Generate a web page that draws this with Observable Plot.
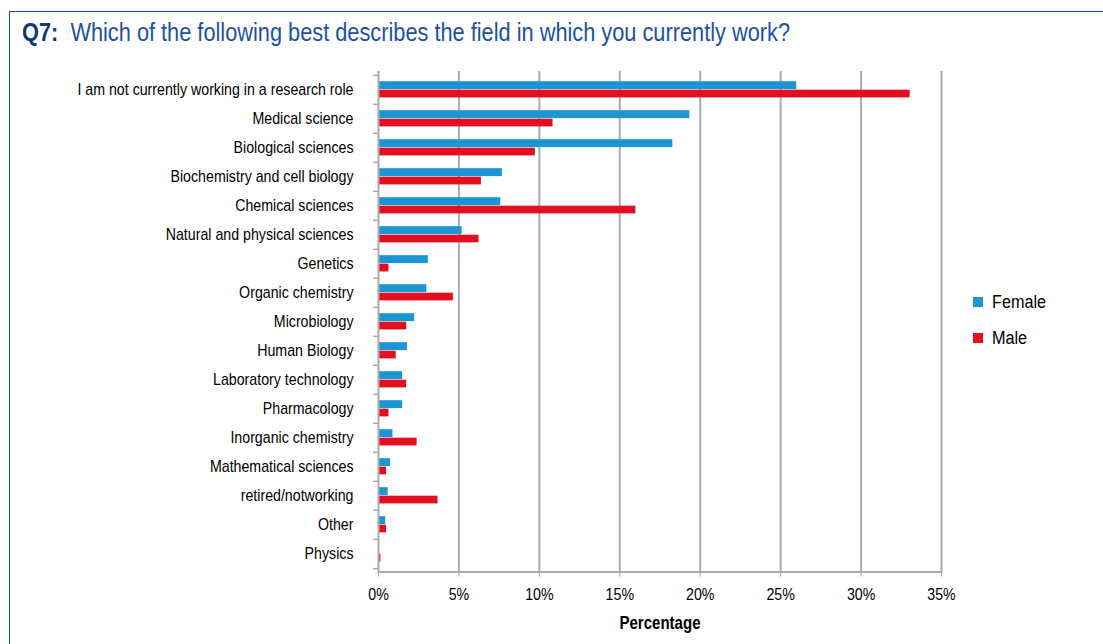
<!DOCTYPE html>
<html><head><meta charset="utf-8">
<script src="https://cdn.jsdelivr.net/npm/d3@7"></script>
<script src="https://cdn.jsdelivr.net/npm/@observablehq/plot@0.6"></script>
<style>
body{margin:0;background:#fff;width:1103px;height:644px;overflow:hidden;position:relative;font-family:"Liberation Sans",Arial,sans-serif;}
#frame{position:absolute;left:9px;top:11px;width:1100px;height:640px;border-top:1.5px solid #1f4e8c;border-left:1.5px solid #1f4e8c;}
#title{position:absolute;left:22px;top:18px;font-size:25px;color:#1d51a0;white-space:nowrap;transform-origin:0 0;}
#title b{color:#0d3b78}
#chart{position:absolute;left:0;top:0}
.leg{position:absolute;font-size:18px;line-height:20px;color:#000;white-space:nowrap;transform-origin:0 0}
.sw{position:absolute;width:10px;height:10px}
</style>
</head><body>
<div id="frame"></div>
<div id="title"><b>Q7:</b>&nbsp; Which of the following best describes the field in which you currently work?</div>
<div id="chart"></div>
<div class="sw" style="left:973px;top:297px;background:#1b95d3"></div>
<div class="leg" style="left:992px;top:292px">Female</div>
<div class="sw" style="left:973px;top:333px;background:#e30e20"></div>
<div class="leg" style="left:992px;top:328px">Male</div>
<script>
const categories = ["I am not currently working in a research role","Medical science","Biological sciences","Biochemistry and cell biology","Chemical sciences","Natural and physical sciences","Genetics","Organic chemistry","Microbiology","Human Biology","Laboratory technology","Pharmacology","Inorganic chemistry","Mathematical sciences","retired/notworking","Other","Physics"];
const female = [26.0,19.35,18.3,7.7,7.6,5.2,3.1,3.0,2.25,1.8,1.5,1.5,0.9,0.75,0.6,0.45,0];
const male   = [33.05,10.85,9.75,6.4,16.0,6.25,0.65,4.65,1.75,1.1,1.75,0.65,2.4,0.5,3.7,0.5,0.15];
const xTicks = [0,5,10,15,20,25,30,35];

const rowsF = categories.map((c,i)=>({cat:c, v:female[i]}));
const rowsM = categories.map((c,i)=>({cat:c, v:male[i]}));
const font = '"Liberation Sans",Arial,sans-serif';
const grey = "#ababab";

const chart = Plot.plot({
  width:1103, height:644, marginTop:71, marginBottom:72.5, marginLeft:378, marginRight:162,
  style:{fontFamily:font, fontSize:"17px", color:"#000", background:"transparent", overflow:"visible"},
  x:{domain:[0,35], ticks:xTicks},
  y:{domain:categories, padding:0},
  marks:[
    Plot.ruleX(xTicks.slice(1), {stroke:grey, strokeWidth:2}),
    Plot.barX(rowsF, {y:"cat", x:"v", fill:"#1b95d3", insetTop:6.2, insetBottom:14.9}),
    Plot.barX(rowsM, {y:"cat", x:"v", fill:"#e30e20", insetTop:14.7, insetBottom:6.6}),
    Plot.ruleX([0], {stroke:grey, strokeWidth:2}),
    Plot.frame({anchor:"bottom", stroke:grey, strokeWidth:2}),
    Plot.ruleY(categories, {y:d=>d, x1:-0.31, x2:0, dy:-14.7, stroke:grey, strokeWidth:1.5}),
    Plot.ruleY([categories[categories.length-1]], {y:d=>d, x1:-0.31, x2:0, dy:14.7, stroke:grey, strokeWidth:1.5}),
    Plot.axisX({ticks:xTicks, tickFormat:d=>d+"%", tickSize:5, tickPadding:11, stroke:grey, label:null, fontSize:17}),
    Plot.axisY({tickSize:0, tickPadding:25, label:null, fontSize:17}),
    Plot.text(["Percentage"], {frameAnchor:"bottom", dy:57, fontWeight:"bold", fontSize:18, text:d=>d})
  ]
});
document.getElementById("chart").appendChild(chart);

// condense text to mimic a condensed grotesque face
const k = 0.835;
chart.querySelectorAll("text").forEach(t => {
  const w = t.getComputedTextLength();
  if (w > 0) { t.setAttribute("textLength", (w*k).toFixed(1)); t.setAttribute("lengthAdjust", "spacingAndGlyphs"); }
});
document.querySelectorAll(".leg").forEach(el => el.style.transform = `scaleX(0.9)`);
const title = document.getElementById("title");
title.style.transform = `scaleX(${(768/title.getBoundingClientRect().width).toFixed(4)})`;
</script>
</body></html>
